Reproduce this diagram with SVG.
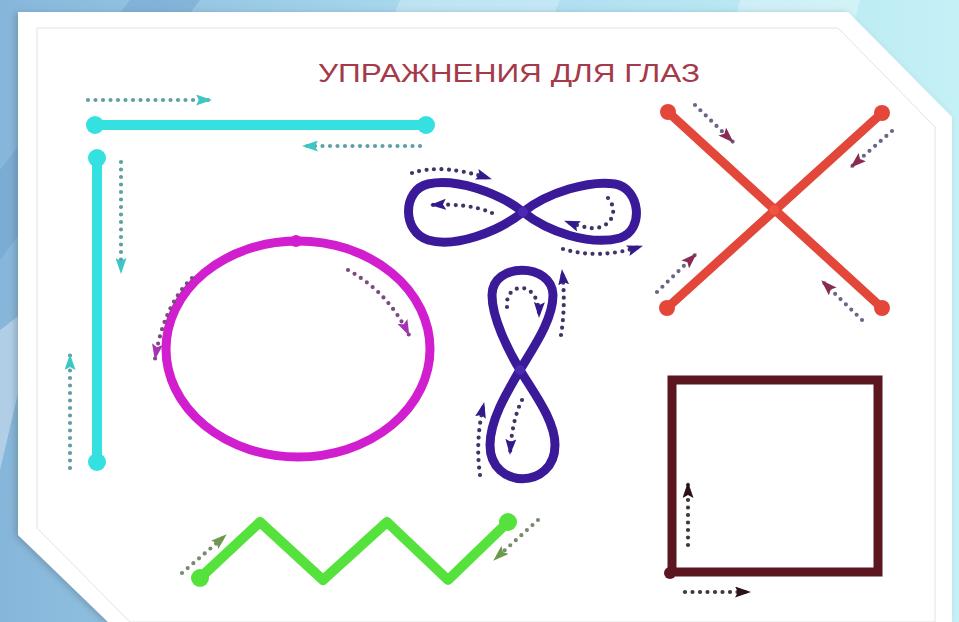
<svg xmlns="http://www.w3.org/2000/svg" width="959" height="622" viewBox="0 0 959 622">
<defs>
<linearGradient id="bg" x1="0" y1="0" x2="1" y2="0">
<stop offset="0" stop-color="#86b6da"/>
<stop offset="0.45" stop-color="#a9daee"/>
<stop offset="1" stop-color="#c4f1f6"/>
</linearGradient>
<filter id="sh" x="-5%" y="-5%" width="110%" height="110%">
<feDropShadow dx="-3" dy="1" stdDeviation="3" flood-color="#506070" flood-opacity="0.35"/>
</filter>
<marker id="aC" viewBox="0 0 16 11" markerWidth="16" markerHeight="11" refX="15" refY="5.5" orient="auto" markerUnits="userSpaceOnUse"><path d="M0,0 L16,5.5 L0,11 L3,5.5 Z" fill="#3ec6c4"/></marker>
<marker id="aM" viewBox="0 0 16 11" markerWidth="16" markerHeight="11" refX="15" refY="5.5" orient="auto" markerUnits="userSpaceOnUse"><path d="M0,0 L16,5.5 L0,11 L3,5.5 Z" fill="#a632b4"/></marker>
<marker id="aP" viewBox="0 0 16 11" markerWidth="16" markerHeight="11" refX="15" refY="5.5" orient="auto" markerUnits="userSpaceOnUse"><path d="M0,0 L16,5.5 L0,11 L3,5.5 Z" fill="#34188e"/></marker>
<marker id="aR" viewBox="0 0 16 11" markerWidth="16" markerHeight="11" refX="15" refY="5.5" orient="auto" markerUnits="userSpaceOnUse"><path d="M0,0 L16,5.5 L0,11 L3,5.5 Z" fill="#8a2c52"/></marker>
<marker id="aS" viewBox="0 0 16 11" markerWidth="16" markerHeight="11" refX="15" refY="5.5" orient="auto" markerUnits="userSpaceOnUse"><path d="M0,0 L16,5.5 L0,11 L3,5.5 Z" fill="#2a1216"/></marker>
<marker id="aG" viewBox="0 0 16 11" markerWidth="16" markerHeight="11" refX="15" refY="5.5" orient="auto" markerUnits="userSpaceOnUse"><path d="M0,0 L16,5.5 L0,11 L3,5.5 Z" fill="#6a9a4a"/></marker>
</defs>
<style>
.dot{fill:none;stroke-width:4.2;stroke-linecap:round;stroke-dasharray:0 7.5}
.dc{stroke:#5f9fa6}
.dm{stroke:#7a4a80}
.dp{stroke:#3e3468}
.dr{stroke:#6a6688}
.ds{stroke:#3a3a3a}
.dg{stroke:#7a8a70}
.cy{stroke:#34e0e0;stroke-width:10;stroke-linecap:round;fill:none}
.cyd{fill:#34e0e0}
.rd{stroke:#e2473a;stroke-width:9;stroke-linecap:round;fill:none}
.rdd{fill:#e2473a}
.pu{stroke:#3a1a98;stroke-width:9;fill:none;stroke-linejoin:round}
.title{font-family:"Liberation Sans Narrow","Liberation Sans",Arial,sans-serif;font-size:25px;fill:#a43a4a}
</style>
<g id="background">
<rect width="959" height="622" fill="url(#bg)"/>
<polygon points="130,0 200,0 0,260 0,170" fill="#6f9fcc" opacity="0.45"/>
<polygon points="400,0 560,0 300,622 140,622" fill="#ffffff" opacity="0.25"/>
<polygon points="740,0 860,0 700,622 580,622" fill="#ffffff" opacity="0.3"/>
<polygon points="0,330 40,300 0,470" fill="#ffffff" opacity="0.35"/>
</g>
<g id="frame">
<polygon points="18,12 848,12 952,117 952,622 108,622 18,535" fill="#ffffff" filter="url(#sh)"/>
<polygon points="37,28 838,28 935,127 935,622 130,622 37,528" fill="none" stroke="#e2e2e6" stroke-width="1"/>
</g>
<g id="title">
<text class="title" x="509" y="82" text-anchor="middle" textLength="382" lengthAdjust="spacingAndGlyphs">УПРАЖНЕНИЯ ДЛЯ ГЛАЗ</text>
</g>
<g id="cyan-horizontal">
<line class="cy" x1="95" y1="125" x2="426" y2="125"/>
<circle class="cyd" cx="95" cy="125" r="9"/>
<circle class="cyd" cx="426" cy="125" r="9"/>
</g>
<g id="cyan-vertical">
<line class="cy" x1="97" y1="158" x2="97" y2="462"/>
<circle class="cyd" cx="97" cy="158" r="9"/>
<circle class="cyd" cx="97" cy="462" r="9"/>
</g>
<g id="circle">
<ellipse cx="298" cy="349" rx="132" ry="108" fill="none" stroke="#d11fcf" stroke-width="9"/>
<circle cx="296" cy="241" r="6" fill="#d11fcf"/>
</g>
<g id="eight-horizontal">
<path class="pu" d="M523,212 C548,192 590,180 615,184 C640,188 645,230 620,238 C590,246 548,232 523,212 C498,192 455,178 428,184 C402,190 402,232 428,240 C455,248 498,232 523,212 Z"/>
<circle cx="523" cy="212" r="5" fill="#4a2ab0"/>
</g>
<g id="eight-vertical">
<path class="pu" d="M520,370 C508,350 492,318 492,295 C492,262 552,262 553,295 C553,320 533,348 520,370 C507,392 490,420 490,445 C490,490 555,490 555,445 C555,420 533,392 520,370 Z"/>
<circle cx="520" cy="370" r="5" fill="#4a2ab0"/>
</g>
<g id="cross">
<line class="rd" x1="668" y1="112" x2="882" y2="308"/>
<line class="rd" x1="882" y1="113" x2="667" y2="308"/>
<circle class="rdd" cx="668" cy="112" r="8"/>
<circle class="rdd" cx="882" cy="308" r="8"/>
<circle class="rdd" cx="882" cy="113" r="8"/>
<circle class="rdd" cx="667" cy="308" r="8"/>
<circle cx="774" cy="210" r="5" fill="#ee5540"/>
</g>
<g id="square">
<rect x="672" y="380" width="206" height="192" fill="none" stroke="#5c1620" stroke-width="9"/>
<circle cx="670" cy="573" r="6" fill="#5c1620"/>
</g>
<g id="zigzag">
<polyline points="200,578 260,522 323,580 387,522 448,580 508,522" fill="none" stroke="#55e23c" stroke-width="10" stroke-linejoin="round" stroke-linecap="round"/>
<circle cx="200" cy="578" r="9" fill="#55e23c"/>
<circle cx="508" cy="522" r="9" fill="#55e23c"/>
</g>
<g id="connectors">
<path class="dot dc" d="M88,100 L211,100" marker-end="url(#aC)"/>
<path class="dot dc" d="M420,146 L303,146" marker-end="url(#aC)"/>
<path class="dot dc" d="M121,162 L121,273" marker-end="url(#aC)"/>
<path class="dot dc" d="M70,468 L70,355" marker-end="url(#aC)"/>
<path class="dot dm" d="M348,270 Q388,292 409,335" marker-end="url(#aM)"/>
<path class="dot dm" d="M192,278 Q164,305 155,359" marker-end="url(#aM)"/>
<path class="dot dp" d="M412,173 Q442,163 491,179" marker-end="url(#aP)"/>
<path class="dot dp" d="M492,213 Q470,203 431,205" marker-end="url(#aP)"/>
<path class="dot dp" d="M608,198 C620,212 610,230 590,228 Q578,226 565,221" marker-end="url(#aP)"/>
<path class="dot dp" d="M563,249 Q600,260 642,246" marker-end="url(#aP)"/>
<path class="dot dp" d="M507,307 C504,282 540,278 539,317" marker-end="url(#aP)"/>
<path class="dot dp" d="M561,335 Q566,305 562,270" marker-end="url(#aP)"/>
<path class="dot dp" d="M522,400 Q512,420 510,454" marker-end="url(#aP)"/>
<path class="dot dp" d="M480,475 Q475,440 484,403" marker-end="url(#aP)"/>
<path class="dot dr" d="M695,105 L733,142" marker-end="url(#aR)"/>
<path class="dot dr" d="M892,131 L851,167" marker-end="url(#aR)"/>
<path class="dot dr" d="M657,292 L696,254" marker-end="url(#aR)"/>
<path class="dot dr" d="M862,320 L822,281" marker-end="url(#aR)"/>
<path class="dot ds" d="M688,545 L688,483" marker-end="url(#aS)"/>
<path class="dot ds" d="M685,592 L750,592" marker-end="url(#aS)"/>
<path class="dot dg" d="M182,573 L226,535" marker-end="url(#aG)"/>
<path class="dot dg" d="M538,520 L494,560" marker-end="url(#aG)"/>
</g>
</svg>
